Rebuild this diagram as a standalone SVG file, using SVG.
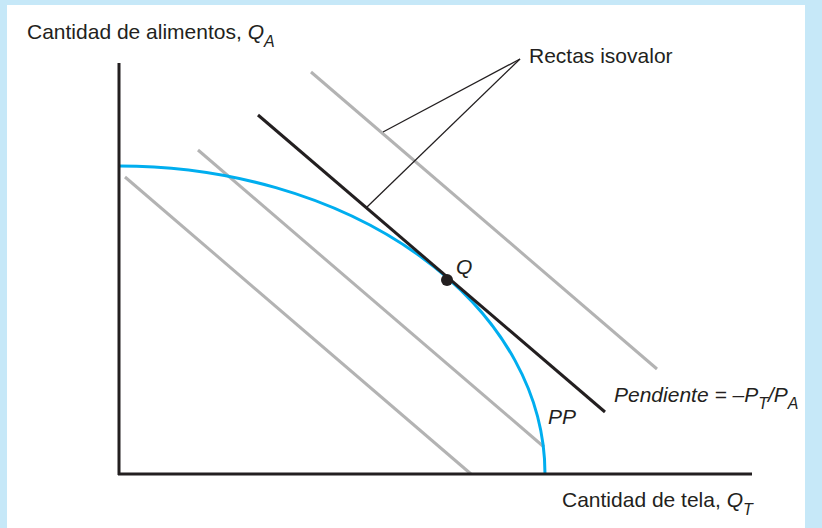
<svg xmlns="http://www.w3.org/2000/svg" width="822" height="528" viewBox="0 0 822 528">
<style>
text{font-family:"Liberation Sans",Arial,sans-serif;font-size:21px;fill:#231f20}
.it{font-style:italic}
.sub{font-size:16px}
.gray{stroke:#b3b3b3;stroke-width:3;fill:none}
.axis{stroke:#231f20;stroke-width:3;fill:none}
.blk{stroke:#231f20;stroke-width:3;fill:none}
.lead{stroke:#231f20;stroke-width:1.3;fill:none}
</style>
<rect x="0" y="0" width="822" height="528" fill="#c6e8f8"/>
<rect x="7" y="5" width="798" height="523" fill="#ffffff"/>
<g id="connectors">
<line class="gray" x1="125" y1="177" x2="471" y2="474"/>
<line class="gray" x1="198" y1="150" x2="544" y2="447"/>
<line class="gray" x1="311" y1="72" x2="657" y2="369"/>
<line class="lead" x1="520" y1="59" x2="383" y2="132"/>
<line class="lead" x1="520" y1="59" x2="367" y2="207"/>
</g>
<g id="pp-curve">
<path d="M119,166 A426,308 0 0 1 545,474" stroke="#00aeef" stroke-width="3" fill="none"/>
</g>
<g id="tangent">
<line class="blk" x1="258" y1="115" x2="605" y2="412"/>
</g>
<g id="axes">
<line class="axis" x1="119" y1="63" x2="119" y2="475"/>
<line class="axis" x1="118" y1="474" x2="752" y2="474"/>
</g>
<g id="point-Q">
<circle cx="447" cy="280" r="6" fill="#231f20"/>
<text class="it" x="456" y="274">Q</text>
</g>
<g id="label-y">
<text x="27" y="39">Cantidad de alimentos, <tspan class="it">Q</tspan><tspan class="it sub" dy="8">A</tspan></text>
</g>
<g id="label-x">
<text x="562" y="507">Cantidad de tela, <tspan class="it">Q</tspan><tspan class="it sub" dy="8">T</tspan></text>
</g>
<g id="label-rectas">
<text x="529" y="63">Rectas isovalor</text>
</g>
<g id="label-pendiente">
<text class="it" x="614" y="402">Pendiente = –P<tspan class="sub" dy="7">T</tspan><tspan dy="-7">/P</tspan><tspan class="sub" dy="7">A</tspan></text>
</g>
<g id="label-PP">
<text class="it" x="548" y="424">PP</text>
</g>
</svg>
